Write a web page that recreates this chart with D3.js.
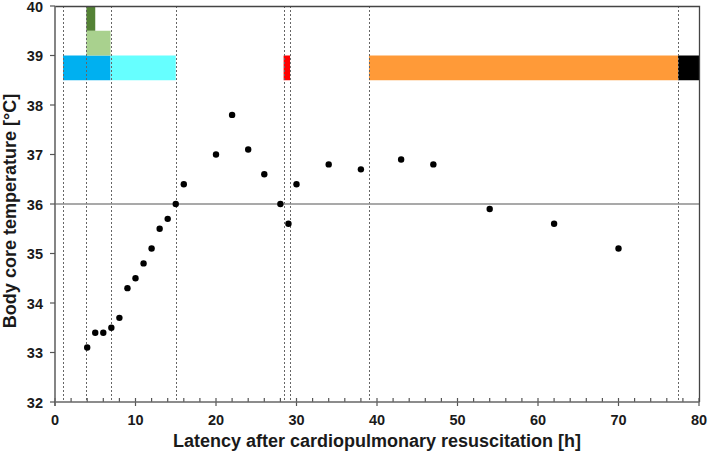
<!DOCTYPE html>
<html>
<head>
<meta charset="utf-8">
<script src="https://cdn.jsdelivr.net/npm/d3@7"></script>
<style>
  body { margin: 0; background: #fff; }
  text { font-family: "Liberation Sans", Arial, sans-serif; font-weight: bold; fill: #1a1a1a; }
</style>
</head>
<body>
<svg width="708" height="453"></svg>
<script>
// measurements: hours after CPR vs body core temperature
var hours = [4, 5, 6, 7, 8, 9, 10, 11, 12, 13, 14, 15, 16, 20, 22, 24, 26, 28, 29, 30, 34, 38, 43, 47, 54, 62, 70]
var temps = [33.1, 33.4, 33.4, 33.5, 33.7, 34.3, 34.5, 34.8, 35.1, 35.5, 35.7, 36.0, 36.4, 37.0, 37.8, 37.1, 36.6, 36.0, 35.6, 36.4, 36.8, 36.7, 36.9, 36.8, 35.9, 35.6, 35.1]

// event markers (dashed verticals), in hours
var markerHours = [1, 3.9, 6.9, 15, 28.4, 29.2, 39, 77.4]

// treatment bands: start/end hour, low/high temperature
var bandStart = [1, 6.9, 3.9, 3.9, 28.4, 39, 77.4]
var bandEnd   = [6.9, 15, 6.9, 5, 29.2, 77.4, 80]
var bandLow   = [38.5, 38.5, 39, 39.5, 38.5, 38.5, 38.5]
var bandHigh  = [39, 39, 39.5, 40, 39, 39, 39]
var bandColors = ['#00b0f0', '#66ffff', '#a9d18e', '#548235', '#ff0000', '#ff9a38', '#000000']

var xTicks = d3.range(0, 81, 10)
var yTicks = d3.range(32, 41, 1)
var refTemp = 36

function draw() {
var svg = d3.select('svg'),
    pl = 55, pr = 699, pt = 6, pb = 402

var x = d3.scaleLinear().domain([0, 80]).range([pl, pr])
var y = d3.scaleLinear().domain([32, 40]).range([pb, pt])

// bands
svg.selectAll('rect.band')
    .data(bandStart)
    .enter().append('rect')
    .attr('class', 'band')
    .attr('x', function(d, i) { return x(d) })
    .attr('width', function(d, i) { return x(bandEnd[i]) - x(d) })
    .attr('y', function(d, i) { return y(bandHigh[i]) })
    .attr('height', function(d, i) { return y(bandLow[i]) - y(bandHigh[i]) })
    .attr('fill', function(d, i) { return bandColors[i] })

// dashed markers
svg.selectAll('line.marker')
    .data(markerHours)
    .enter().append('line')
    .attr('class', 'marker')
    .attr('x1', function(d) { return Math.round(x(d)) + 0.5 })
    .attr('x2', function(d) { return Math.round(x(d)) + 0.5 })
    .attr('y1', pt)
    .attr('y2', pb)
    .attr('stroke', '#666')
    .attr('stroke-width', 1)
    .attr('stroke-dasharray', '2,2')

// 36 degree reference
svg.append('line')
    .attr('x1', pl).attr('x2', pr)
    .attr('y1', y(refTemp)).attr('y2', y(refTemp))
    .attr('stroke', '#8c8c8c')
    .attr('stroke-width', 1.5)

// frame top/right
svg.append('path')
    .attr('d', 'M' + pl + ',' + (pt + 0.5) + 'H' + (pr + 0.5) + 'V' + pb)
    .attr('fill', 'none')
    .attr('stroke', '#444')
    .attr('stroke-width', 1.3)

// x axis: minor ticks every 2 h (inside), major every 10 h (crossing)
var minor = d3.range(0, 81, 2)
svg.selectAll('line.minor')
    .data(minor)
    .enter().append('line')
    .attr('x1', function(d) { return x(d) })
    .attr('x2', function(d) { return x(d) })
    .attr('y1', pb - 4)
    .attr('y2', function(d) { return d % 10 == 0 ? pb + 4 : pb })
    .attr('stroke', '#555')
    .attr('stroke-width', 1.2)

svg.append('line')
    .attr('x1', pl).attr('x2', pr + 0.5)
    .attr('y1', pb).attr('y2', pb)
    .attr('stroke', '#666').attr('stroke-width', 1.6)

svg.selectAll('text.xt')
    .data(xTicks)
    .enter().append('text')
    .attr('x', function(d) { return x(d) })
    .attr('y', pb + 23)
    .attr('text-anchor', 'middle')
    .style('font-size', '14.5px')
    .text(function(d) { return d })

// y axis
svg.append('line')
    .attr('x1', pl).attr('x2', pl)
    .attr('y1', pt).attr('y2', pb + 4)
    .attr('stroke', '#666').attr('stroke-width', 1.6)

svg.selectAll('line.yt')
    .data(yTicks)
    .enter().append('line')
    .attr('x1', pl - 5).attr('x2', pl)
    .attr('y1', function(d) { return y(d) })
    .attr('y2', function(d) { return y(d) })
    .attr('stroke', '#555').attr('stroke-width', 1.2)

svg.selectAll('text.yt')
    .data(yTicks)
    .enter().append('text')
    .attr('x', pl - 12)
    .attr('y', function(d) { return y(d) + 5.5 })
    .attr('text-anchor', 'end')
    .style('font-size', '14.5px')
    .text(function(d) { return d })

// titles
svg.append('text')
    .attr('x', 377)
    .attr('y', 447)
    .attr('text-anchor', 'middle')
    .style('font-size', '18px')
    .text('Latency after cardiopulmonary resuscitation [h]')

svg.append('text')
    .attr('transform', 'translate(16,' + 211 + ') rotate(-90)')
    .attr('text-anchor', 'middle')
    .style('font-size', '18px')
    .text('Body core temperature [°C]')

// points
svg.selectAll('circle')
    .data(hours)
    .enter().append('circle')
    .attr('cx', function(d) { return x(d) })
    .attr('cy', function(d, i) { return y(temps[i]) })
    .attr('r', 3.2)
    .attr('fill', '#000')
}
draw()
</script>
</body>
</html>
